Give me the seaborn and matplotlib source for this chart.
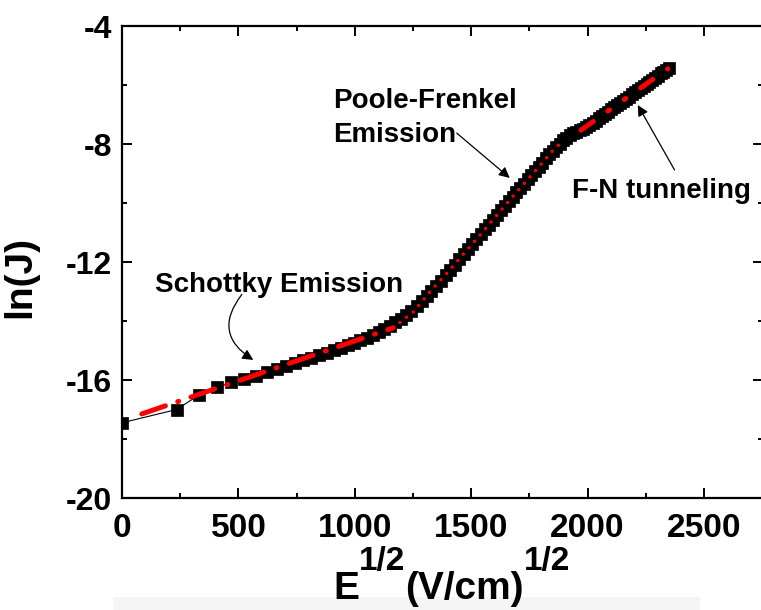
import matplotlib
matplotlib.use('Agg')
import matplotlib.pyplot as plt
import seaborn as sns
import pandas as pd
from matplotlib.patches import Rectangle
from matplotlib.ticker import MultipleLocator

# ---------------- data ----------------
sqrtE = [0, 235, 332.3, 407.0, 470, 525.5, 575.6, 621.7, 664.7, 705, 743.1,
         779.4, 814.1, 847.3, 879.3, 910.2, 940, 968.9, 997.0, 1024.3, 1051.0,
         1076.9, 1102.3, 1127.0, 1151.3, 1175, 1198.3, 1221.1, 1243.5, 1265.5,
         1287.1, 1308.4, 1329.4, 1350.0, 1370.3, 1390.3, 1410, 1429.4, 1448.6,
         1467.6, 1486.3, 1504.7, 1523.0, 1541.0, 1558.8, 1576.4, 1593.9, 1611.1,
         1628.1, 1645, 1661.7, 1678.2, 1694.6, 1710.8, 1726.9, 1742.8, 1758.6,
         1774.2, 1789.8, 1805.1, 1820.3, 1835.4, 1850.4, 1865.3, 1880, 1894.6,
         1909.2, 1923.6, 1937.9, 1952.0, 1966.1, 1980.2, 1994.0, 2007.8, 2021.6,
         2035.1, 2048.7, 2062.1, 2075.5, 2088.7, 2101.9, 2115, 2128.1, 2141.0,
         2153.8, 2166.6, 2179.3, 2191.9, 2204.5, 2217.0, 2229.4, 2241.7, 2254.0,
         2266.2, 2278.5, 2290.5, 2302.5, 2314.5, 2326.5, 2338.2, 2350]
lnJ = [-17.45, -17.0, -16.5, -16.25, -16.08, -15.98, -15.86, -15.74, -15.63,
       -15.52, -15.42, -15.33, -15.24, -15.15, -15.07, -14.98, -14.90, -14.82,
       -14.73, -14.65, -14.56, -14.47, -14.38, -14.28, -14.17, -14.05, -13.93,
       -13.80, -13.66, -13.50, -13.33, -13.16, -12.99, -12.81, -12.63, -12.45,
       -12.27, -12.09, -11.91, -11.73, -11.55, -11.38, -11.21, -11.05, -10.89,
       -10.73, -10.57, -10.41, -10.25, -10.10, -9.94, -9.79, -9.64, -9.49,
       -9.35, -9.20, -9.06, -8.92, -8.78, -8.64, -8.48, -8.35, -8.23, -8.11,
       -7.99, -7.88, -7.78, -7.70, -7.63, -7.58, -7.54, -7.48, -7.42, -7.35,
       -7.28, -7.21, -7.13, -7.06, -6.98, -6.91, -6.83, -6.76, -6.68, -6.61,
       -6.54, -6.46, -6.39, -6.32, -6.24, -6.17, -6.10, -6.03, -5.96, -5.89,
       -5.82, -5.75, -5.68, -5.61, -5.55, -5.49, -5.43]

schottky_x = [85, 1165]
schottky_y = [-17.15, -14.23]
pf_x = [1165, 1252, 1324, 1396, 1467, 1539, 1611, 1682, 1768, 1854, 1900]
pf_y = [-14.23, -13.69, -13.0, -12.38, -11.73, -11.08, -10.41, -9.75, -8.98, -8.20, -7.86]
fn_x = [1972, 2345]
fn_y = [-7.53, -5.45]

x_ticks = [0, 500, 1000, 1500, 2000, 2500]
y_ticks = [-20, -16, -12, -8, -4]

# ---------------- style ----------------
sns.set_style('ticks')
plt.rcParams['font.family'] = ['Liberation Sans', 'DejaVu Sans']
plt.rcParams['font.weight'] = 'bold'
plt.rcParams['axes.linewidth'] = 1.6
plt.rcParams['axes.unicode_minus'] = False
for k in ['text.color', 'axes.labelcolor', 'xtick.color', 'ytick.color', 'axes.edgecolor']:
    plt.rcParams[k] = 'black'

W, H = 761, 610
fig = plt.figure(figsize=(W / 100, H / 100), dpi=100)
fig.patch.set_facecolor('white')

# faint gray strip under the x label
fig.patches.append(Rectangle((113 / W, 0), (700 - 113) / W, (610 - 597) / H,
                             transform=fig.transFigure, facecolor='#f5f5f5',
                             edgecolor='none', zorder=0))

ax = fig.add_axes([122 / W, 1 - 498 / H, (763 - 122) / W, (498 - 26) / H])
ax.set_facecolor('none')

df = pd.DataFrame({'sqrtE': sqrtE, 'lnJ': lnJ})
sns.lineplot(data=df, x='sqrtE', y='lnJ', ax=ax, color='black', lw=0.8,
             marker='s', markersize=8, markeredgecolor='black',
             markerfacecolor='black', markeredgewidth=0.5, zorder=2)

sns.lineplot(x=schottky_x, y=schottky_y, ax=ax, color='#ff0000', lw=3.6,
             linestyle=(0, (5, 2.6, 0.2, 2.6)), dash_capstyle='round', zorder=3)
sns.lineplot(x=pf_x, y=pf_y, ax=ax, color='#ff0000', lw=2.4,
             linestyle=(0, (0.05, 2.5)), dash_capstyle='round', zorder=3)
sns.lineplot(x=fn_x, y=fn_y, ax=ax, color='#ff0000', lw=3.6,
             linestyle=(0, (3, 3.6, 0.4, 3.6, 0.4, 3.6)), dash_capstyle='round', zorder=3)

ax.set_xlim(0, 2754)
ax.set_ylim(-20, -4)
ax.set_xticks(x_ticks)
ax.set_yticks(y_ticks)
ax.xaxis.set_minor_locator(MultipleLocator(250))
ax.yaxis.set_minor_locator(MultipleLocator(2))
for s in ax.spines.values():
    s.set_visible(True)
    s.set_linewidth(1.6)
    s.set_color('black')
ax.tick_params(which='both', direction='in', top=True, right=True,
               width=1.4, color='black')
ax.tick_params(which='major', length=7)
ax.tick_params(which='minor', length=3.5)
ax.tick_params(axis='y', labelsize=23, pad=7)
ax.tick_params(axis='x', labelsize=24, pad=11)
for lab in ax.get_xticklabels() + ax.get_yticklabels():
    lab.set_fontweight('bold')
    lab.set_color('black')

ax.set_xlabel('')
ax.set_ylabel('ln(J)', fontsize=28, fontweight='bold', color='black')
ax.yaxis.set_label_coords((38 - 122) / 641, (498 - 277) / 472)

# annotations
txt_kw = dict(fontsize=20, fontweight='bold', color='black', ha='left', va='baseline')
ax.text(142, -13.01, 'Schottky Emission', **txt_kw)
ax.text(906, -6.79, 'Poole-Frenkel', **txt_kw)
ax.text(906, -7.92, 'Emission', **txt_kw)
ax.text(1932, -9.83, 'F-N tunneling', **txt_kw)

arr = dict(arrowstyle='-|>', color='black', lw=0.9, mutation_scale=16,
           shrinkA=0, shrinkB=0)
ax.annotate('', xy=(564, -15.32), xytext=(515, -13.1),
            arrowprops=dict(arr, connectionstyle='arc3,rad=0.55'))
ax.annotate('', xy=(1666, -9.15), xytext=(1438, -7.63), arrowprops=arr)
ax.annotate('', xy=(2216, -6.68), xytext=(2374, -8.88), arrowprops=arr)

# composite x label: E^{1/2}(V/cm)^{1/2}
fig.canvas.draw()
r = fig.canvas.get_renderer()
base = 1 - 599 / H
sup = 1 - 570 / H
x = 333 / W
pieces = [('E', 28, base), ('1/2', 24, sup), ('(V/cm)', 28, base), ('1/2', 24, sup)]
for s, fs, y in pieces:
    t = fig.text(x, y, s, fontsize=fs, fontweight='bold', ha='left', va='baseline',
                 color='black')
    bb = t.get_window_extent(r)
    x = bb.x1 / W

fig.savefig('out.png', dpi=100)
